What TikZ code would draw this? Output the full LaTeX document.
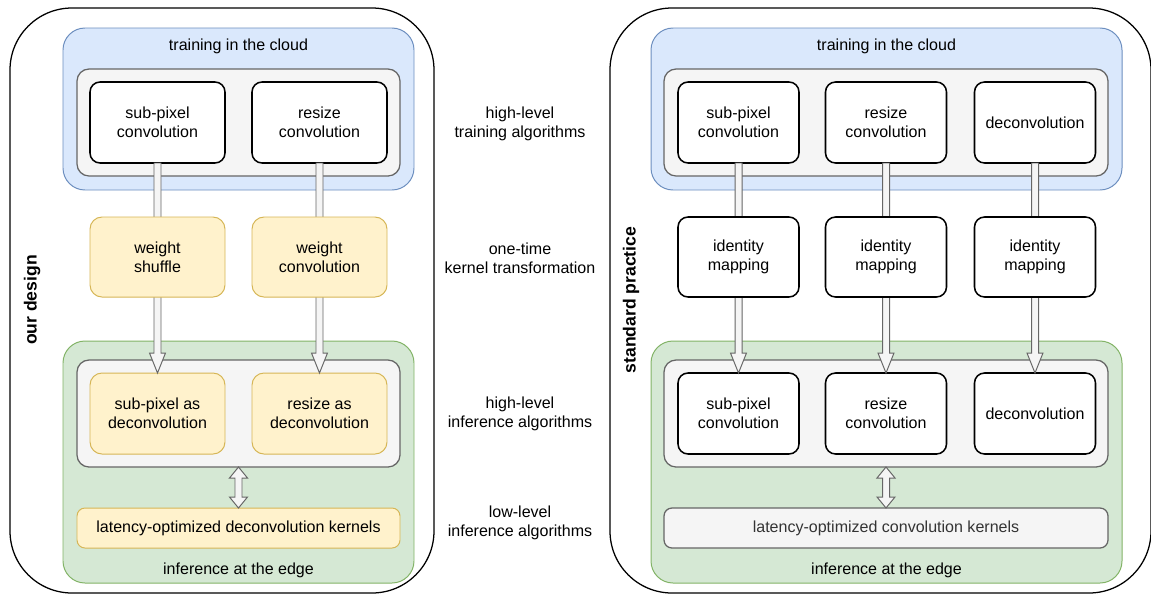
\documentclass[tikz,border=0pt]{standalone}
\usepackage{fontspec}
\setmainfont{Liberation Sans}
\usetikzlibrary{calc}
\definecolor{cloudfill}{HTML}{DAE8FC}
\definecolor{cloudline}{HTML}{6C8EBF}
\definecolor{edgefill}{HTML}{D5E8D4}
\definecolor{edgeline}{HTML}{82B366}
\definecolor{ylwfill}{HTML}{FFF2CC}
\definecolor{ylwline}{HTML}{D6B656}
\definecolor{gryfill}{HTML}{F5F5F5}
\definecolor{gryline}{HTML}{666666}
\definecolor{grytext}{HTML}{333333}
\tikzset{
	sz/.style 2 args={minimum width=#1*0.025cm, minimum height=#2*0.025cm, inner sep=0pt, outer sep=0pt},
	sidebox/.style={draw, line width=0.9pt, rounded corners=1.55cm},
	trainbox/.style={draw=cloudline, fill=cloudfill, line width=0.7pt, rounded corners=0.55cm},
	inferbox/.style={draw=edgeline, fill=edgefill, line width=0.7pt, rounded corners=0.55cm},
	grp/.style={draw=gryline, fill=gryfill, line width=0.9pt, rounded corners=0.3cm},
	blk/.style={draw, fill=white, line width=1.1pt, rounded corners=0.25cm, align=center},
	ylw/.style={draw=ylwline, fill=ylwfill, line width=0.7pt, rounded corners=0.3cm, align=center},
	flexarr/.style={draw=gryline, fill=gryfill, line width=0.7pt},
	sidelabel/.style={rotate=90, font=\bfseries\fontsize{12.5}{15}\selectfont}
}
% hollow arrow from #1 down to #2
\newcommand\flexdown[2]{%
	\draw[flexarr] ($(#1.south)+(-3.5,0)$) -- ($(#2.north)+(-3.5,-20)$) -- ($(#2.north)+(-8,-20)$)
	-- (#2.north) -- ($(#2.north)+(8,-20)$) -- ($(#2.north)+(3.5,-20)$) -- ($(#1.south)+(3.5,0)$) -- cycle;}
% hollow two-headed arrow
\newcommand\flexboth[2]{%
	\draw[flexarr] (#1.south) -- ($(#1.south)+(9,11)$) -- ($(#1.south)+(3.5,11)$) -- ($(#2.north)+(3.5,-11)$)
	-- ($(#2.north)+(9,-11)$) -- (#2.north) -- ($(#2.north)+(-9,-11)$) -- ($(#2.north)+(-3.5,-11)$)
	-- ($(#1.south)+(-3.5,11)$) -- ($(#1.south)+(-9,11)$) -- cycle;}
\begin{document}
\begin{tikzpicture}[x=0.025cm, y=-0.025cm, font=\fontsize{11.4}{13.7}\selectfont]
	\useasboundingbox (0,0) rectangle (1151,594);
	% our design
	\node[sidebox, sz={424}{585}] (ourL) at (222,300.5) {};
	\node[sidelabel] (ourT) at (32,300) {our design};
	\node[trainbox, sz={351}{162}] (cloudL) at (238.5,109) {};
	\node (cloudLt) at (238.5,46) {training in the cloud};
	\node[grp, sz={323}{107}] (trnL) at (238.5,122.5) {};
	\node[blk, sz={135}{81}] (spc) at (157.5,122.5) {sub-pixel\\convolution};
	\node[blk, sz={135}{81}] (rsc) at (319.5,122.5) {resize\\convolution};
	\node[inferbox, sz={351}{242}] (edgeL) at (238.5,462) {};
	\node (edgeLt) at (238.5,570) {inference at the edge};
	\node[grp, sz={323}{107}] (infL) at (238.5,413.5) {};
	\node[ylw, sz={135}{81}] (spd) at (157.5,413.5) {sub-pixel as\\deconvolution};
	\node[ylw, sz={135}{81}] (rsd) at (319.5,413.5) {resize as\\deconvolution};
	\node[ylw, sz={323}{40}, rounded corners=0.2cm] (kerL) at (238.5,528) {latency-optimized deconvolution kernels};
	\flexdown{spc}{spd}
	\flexdown{rsc}{rsd}
	\node[ylw, sz={135}{80}] (wsh) at (157.5,257) {weight\\shuffle};
	\node[ylw, sz={135}{80}] (wcv) at (319.5,257) {weight\\convolution};
	\flexboth{infL}{kerL}
	% levels
	\node[align=center] (lv1) at (520,124) {high-level\\training algorithms};
	\node[align=center] (lv2) at (520,258) {one-time\\kernel transformation};
	\node[align=center] (lv3) at (520,414) {high-level\\inference algorithms};
	\node[align=center] (lv4) at (520,523) {low-level\\inference algorithms};
	% standard practice
	\node[sidebox, sz={541}{585}] (ourR) at (880.5,300.5) {};
	\node[sidelabel] (stdT) at (631,300) {standard practice};
	\node[trainbox, sz={471}{162}] (cloudR) at (886.5,109) {};
	\node (cloudRt) at (886.5,46) {training in the cloud};
	\node[grp, sz={444}{107}] (trnR) at (886,122.5) {};
	\node[inferbox, sz={471}{242}] (edgeR) at (886.5,462) {};
	\node (edgeRt) at (886.5,570) {inference at the edge};
	\node[grp, sz={444}{107}] (infR) at (886,413.5) {};
	\node[grp, sz={444}{40}, rounded corners=0.2cm, text=grytext] (kerR) at (886,528) {latency-optimized convolution kernels};
	\foreach \n/\x/\txt in {a/738.5/{sub-pixel\\convolution}, b/886/{resize\\convolution}, c/1035/deconvolution} {
		\node[blk, sz={121}{81}] (t\n) at (\x,122.5) {\txt};
		\node[blk, sz={121}{81}] (b\n) at (\x,413.5) {\txt};
	}
	\foreach \n/\x in {a/738.5, b/886, c/1035} {
		\flexdown{t\n}{b\n}
		\node[blk, sz={121}{80}] (i\n) at (\x,257) {identity\\mapping};
	}
	\flexboth{infR}{kerR}
\end{tikzpicture}
\end{document}
